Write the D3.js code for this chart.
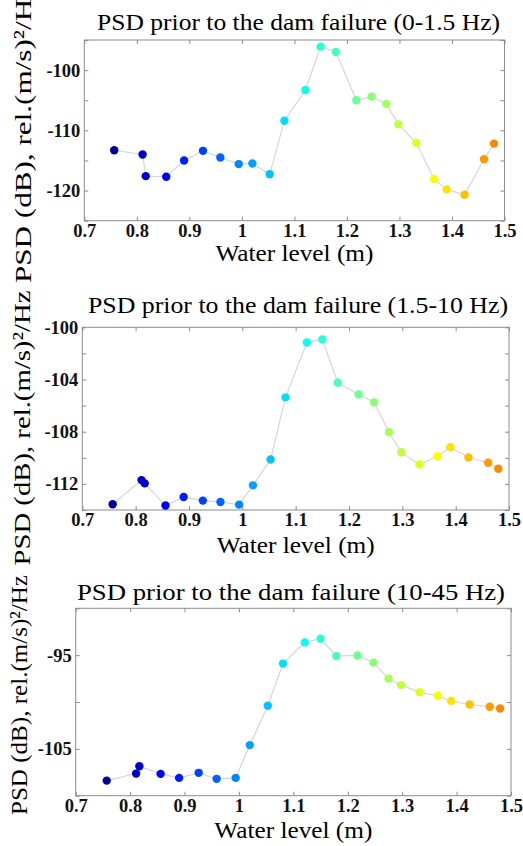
<!DOCTYPE html>
<html>
<head>
<meta charset="utf-8">
<script src="https://cdn.jsdelivr.net/npm/d3@7"></script>
<style>
  body { margin: 0; background: #fff; }
  svg { display: block; font-family: "Liberation Serif", "Times New Roman", serif; }
</style>
</head>
<body>
<svg id="chart" width="523" height="846"></svg>
<script>
// water level (m) shared by the three panels
const waterLevel = [0.757, 0.811, 0.817, 0.856, 0.890, 0.926, 0.959, 0.994, 1.020, 1.053, 1.081, 1.121,
  1.150, 1.179, 1.218, 1.247, 1.275, 1.298, 1.332, 1.366, 1.390, 1.424, 1.461, 1.480];

// PSD (dB) per band
const psdLow = [-113.3, -114.0, -117.6, -117.7, -115.0, -113.4, -114.5, -115.6, -115.5, -117.3, -108.4, -103.3,
  -96.1, -97.0, -105.0, -104.4, -105.6, -109.0, -112.1, -118.1, -119.8, -120.7, -114.8, -112.2];
const psdMid = [-113.56, -111.71, -111.96, -113.66, -113.0, -113.28, -113.39, -113.59, -112.11, -110.13, -105.37, -101.17,
  -100.94, -104.25, -105.14, -105.75, -108.04, -109.57, -110.51, -109.88, -109.19, -109.98, -110.38, -110.84];
const psdHigh = [-108.39, -107.64, -106.86, -107.67, -108.1, -107.56, -108.2, -108.1, -104.6, -100.4, -95.9, -93.64,
  -93.25, -95.1, -95.03, -95.8, -97.5, -98.2, -98.95, -99.34, -99.9, -100.27, -100.5, -100.7];

const titles = [
  "PSD prior to the dam failure (0-1.5 Hz)",
  "PSD prior to the dam failure (1.5-10 Hz)",
  "PSD prior to the dam failure (10-45 Hz)"
];
const xTicks = [0.7, 0.8, 0.9, 1.0, 1.1, 1.2, 1.3, 1.4, 1.5];
const yTicksLow = [-125, -120, -115, -110, -105, -100, -95];
const yTicksMid = [-114, -112, -110, -108, -106, -104, -102, -100];
const yTicksHigh = [-110, -105, -100, -95, -90];
const yLabelsLow = [-120, -110, -100];
const yLabelsMid = [-112, -108, -104, -100];
const yLabelsHigh = [-105, -95];

// layout per panel (the three panels were not drawn at quite the same scale)
const panels = [
  { series: psdLow, title: titles[0], yDomain: [-125, -95], ticks: yTicksLow, labels: yLabelsLow,
    left: 84.3, right: 504.5, top: 40, bottom: 220.7,
    titleX: 298.5, titleY: 30, titleLen: 403, titleSize: 23,
    xLabelY: 261, yLabelX: 23, yLabelY: 134, yLabelLen: 298 },
  { series: psdMid, title: titles[1], yDomain: [-114, -100], ticks: yTicksMid, labels: yLabelsMid,
    left: 82.3, right: 509, top: 327.3, bottom: 510,
    titleX: 298, titleY: 313, titleLen: 420, titleSize: 23.5,
    xLabelY: 553, yLabelX: 22, yLabelY: 428, yLabelLen: 275 },
  { series: psdHigh, title: titles[2], yDomain: [-110, -90], ticks: yTicksHigh, labels: yLabelsHigh,
    left: 75.7, right: 511, top: 608.3, bottom: 795.7,
    titleX: 291, titleY: 600, titleLen: 428, titleSize: 24,
    xLabelY: 838, yLabelX: 19, yLabelY: 695, yLabelLen: 240 }
];

// jet colormap
function jet(t) {
  const c = v => Math.max(0, Math.min(1, v));
  const r = c(1.5 - Math.abs(4 * t - 3));
  const g = c(1.5 - Math.abs(4 * t - 2));
  const b = c(1.5 - Math.abs(4 * t - 1));
  return d3.rgb(r * 255, g * 255, b * 255).formatHex();
}
const color = d3.scaleSequential(jet).domain([0.737, 1.737]);

const svg = d3.select("#chart");

panels.forEach(p => {
  const x = d3.scaleLinear().domain([0.7, 1.5]).range([p.left, p.right]);
  const y = d3.scaleLinear().domain(p.yDomain).range([p.bottom, p.top]);
  const g = svg.append("g");

  g.append("rect")
    .attr("x", p.left).attr("y", p.top)
    .attr("width", p.right - p.left).attr("height", p.bottom - p.top)
    .attr("fill", "none").attr("stroke", "#8c8c8c").attr("stroke-width", 1);

  const fmtX = d => String(+d.toFixed(1));

  // ticks on all four sides, pointing in
  const bottomAxis = d3.axisBottom(x).tickValues(xTicks).tickSize(-4).tickFormat(fmtX).tickPadding(3);
  const topAxis = d3.axisTop(x).tickValues(xTicks).tickSize(-4).tickFormat("");
  const leftAxis = d3.axisLeft(y).tickValues(p.ticks).tickSize(-4).tickPadding(4)
    .tickFormat(d => p.labels.includes(d) ? d : "");
  const rightAxis = d3.axisRight(y).tickValues(p.ticks).tickSize(-4).tickFormat("");

  [[bottomAxis, `translate(0,${p.bottom})`], [topAxis, `translate(0,${p.top})`],
   [leftAxis, `translate(${p.left},0)`], [rightAxis, `translate(${p.right},0)`]].forEach(([ax, tr]) => {
    const a = g.append("g").attr("transform", tr).call(ax);
    a.select(".domain").remove();
    a.selectAll(".tick line").attr("stroke", "#8c8c8c");
    a.selectAll("text")
      .attr("fill", "#111")
      .style("font-family", "'Liberation Serif', serif")
      .style("font-size", "18.5px")
      .style("font-weight", "bold");
  });

  // connecting line and markers
  const pts = waterLevel.map((w, i) => [w, p.series[i]]);
  g.append("path")
    .datum(pts)
    .attr("fill", "none")
    .attr("stroke", "#d6d6d6")
    .attr("stroke-width", 1.2)
    .attr("d", d3.line().x(d => x(d[0])).y(d => y(d[1])));

  g.selectAll("circle")
    .data(pts)
    .enter().append("circle")
    .attr("cx", d => x(d[0]))
    .attr("cy", d => y(d[1]))
    .attr("r", 4.2)
    .attr("fill", d => color(d[0]));

  g.append("text")
    .attr("x", p.titleX)
    .attr("y", p.titleY)
    .attr("text-anchor", "middle")
    .attr("textLength", p.titleLen)
    .attr("lengthAdjust", "spacingAndGlyphs")
    .style("font-size", p.titleSize + "px")
    .text(p.title);

  g.append("text")
    .attr("x", (p.left + p.right) / 2)
    .attr("y", p.xLabelY)
    .attr("text-anchor", "middle")
    .attr("textLength", 158)
    .attr("lengthAdjust", "spacingAndGlyphs")
    .style("font-size", "23px")
    .text("Water level (m)");

  g.append("text")
    .attr("transform", `translate(${p.yLabelX},${p.yLabelY}) rotate(-90)`)
    .attr("text-anchor", "middle")
    .attr("dy", "0.35em")
    .attr("textLength", p.yLabelLen)
    .attr("lengthAdjust", "spacingAndGlyphs")
    .style("font-size", "24px")
    .text("PSD (dB), rel.(m/s)²/Hz");
});
</script>
</body>
</html>
